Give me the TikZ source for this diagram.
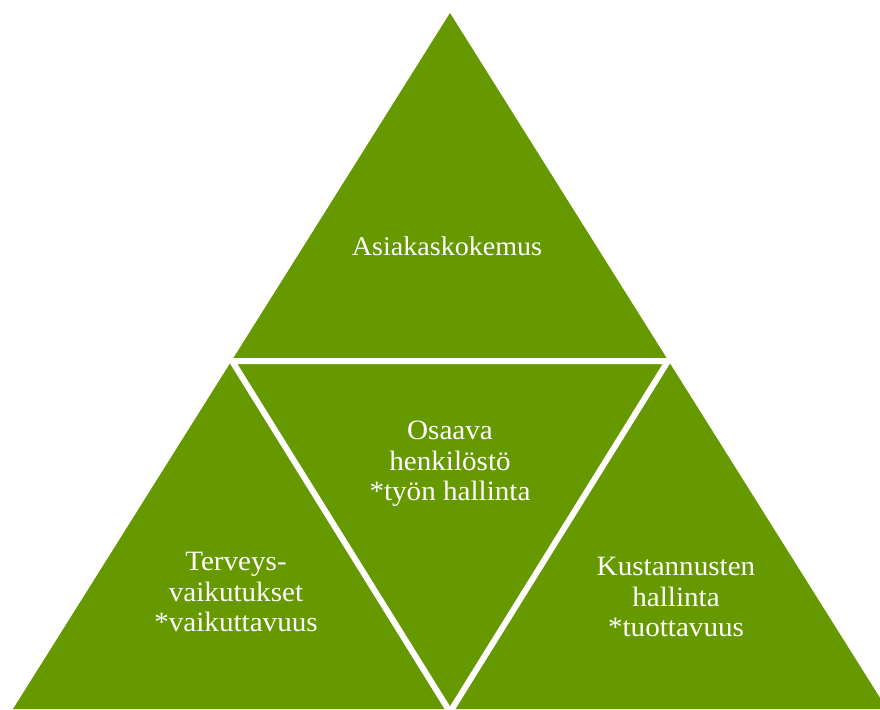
\documentclass[tikz,border=0pt]{standalone}
\usepackage{fontspec}
\setmainfont{Liberation Serif}[FakeStretch=1.04]
\definecolor{leaf}{RGB}{102,153,0}
\begin{document}
\begin{tikzpicture}[x=1pt,y=-1pt,
  gap/.style={draw=white,line width=6pt,line join=miter},
  lbl/.style={text=white,align=center,inner sep=0pt,font=\fontsize{28}{30.5}\selectfont}]
\useasboundingbox (0,0) rectangle (880,709);
\coordinate (apex) at (450,13);
\coordinate (bl) at (13,709);
\coordinate (br) at (887,709);
\coordinate (ml) at (232,361);
\coordinate (mr) at (668,361);
\coordinate (mb) at (450,712);
\fill[leaf] (apex) -- (bl) -- (br) -- cycle;
\draw[gap] (ml) -- (mr) -- (mb) -- cycle;
\node[lbl,font=\fontsize{27}{30}\selectfont] (top) at (447,246) {Asiakaskokemus};
\node[lbl] (mid) at (450,464) {Osaava\\henkilöstö\\*työn hallinta};
\node[lbl] (left) at (236,592) {Terveys-\\vaikutukset\\*vaikuttavuus};
\node[lbl] (right) at (676,597) {Kustannusten\\hallinta\\*tuottavuus};
\end{tikzpicture}
\end{document}
